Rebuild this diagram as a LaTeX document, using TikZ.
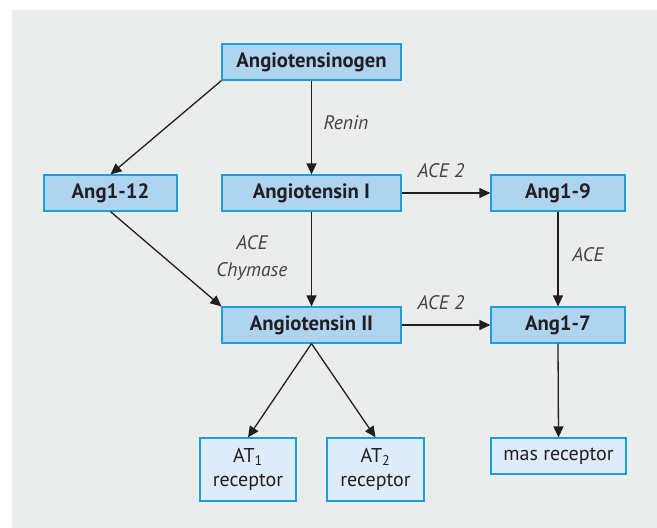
\documentclass[tikz,border=0pt]{standalone}
\usepackage{fontspec}
\setmainfont{PT Sans}
\usetikzlibrary{arrows.meta}
\definecolor{bggray}{RGB}{235,236,236}
\definecolor{boxdark}{RGB}{174,212,240}
\definecolor{boxlight}{RGB}{222,235,248}
\definecolor{boxedge}{RGB}{28,158,222}
\definecolor{inkc}{RGB}{35,31,32}
\tikzset{
  mainbox/.style={draw=boxedge, fill=boxdark, line width=1.2pt, inner sep=0pt, minimum height=36pt,
    font=\fontsize{20.7}{24}\selectfont\bfseries, text=inkc},
  recbox/.style={draw=boxedge, fill=boxlight, line width=1.2pt, inner sep=0pt, align=center,
    font=\fontsize{20}{24}\selectfont, text=inkc},
  enz/.style={font=\fontsize{19.6}{27}\selectfont\itshape, text=inkc!85, align=center, inner sep=0pt},
  conn/.style={draw=inkc, line width=1.3pt, -{Triangle[length=11pt,width=10pt]}}
}
\begin{document}
\begin{tikzpicture}[x=1pt,y=-1pt]
\useasboundingbox (0,0) rectangle (657,528);
\fill[white] (0,0) rectangle (657,528);
\fill[bggray] (12,10) rectangle (657,528);

\node[mainbox, minimum width=179pt] (agt) at (311.5,62) {Angiotensinogen};
\node[mainbox, minimum width=179pt] (ang1) at (311.5,193) {Angiotensin I};
\node[mainbox, minimum width=179pt] (ang2) at (311.5,325) {Angiotensin II};
\node[mainbox, minimum width=133pt] (a112) at (110.5,193) {Ang1-12};
\node[mainbox, minimum width=134pt] (a19) at (558,193) {Ang1-9};
\node[mainbox, minimum width=134pt] (a17) at (558,325) {Ang1-7};
\node[recbox, minimum width=96pt, minimum height=63pt] (at1) at (248,469.5) {AT\textsubscript{1}\\receptor};
\node[recbox, minimum width=97pt, minimum height=63pt] (at2) at (375.5,469.5) {AT\textsubscript{2}\\receptor};
\node[recbox, minimum width=135pt, minimum height=36pt] (mas) at (558.5,456) {mas receptor};

\draw[conn] (agt.south) -- (ang1.north);
\draw[conn] (agt.south west) -- (a112.north);
\draw[conn] (a112.south) -- (ang2.north west);
\draw[conn] (ang1.south) -- (ang2.north);
\draw[conn] (ang1.east) -- (a19.west);
\draw[conn] (a19.south) -- (a17.north);
\draw[conn] (ang2.east) -- (a17.west);
\draw[conn] (ang2.south) -- (at1.north);
\draw[conn] (ang2.south) -- (at2.north);
\draw[conn] (a17.south) -- (mas.north);

\node[enz] (lrenin) at (346,123) {Renin};
\node[enz] (lace2a) at (441,171) {ACE 2};
\node[enz] (lace2b) at (441,303) {ACE 2};
\node[enz] (lacech) at (252,258) {ACE\\Chymase};
\node[enz] (lace) at (588,255) {ACE};
\end{tikzpicture}
\end{document}
